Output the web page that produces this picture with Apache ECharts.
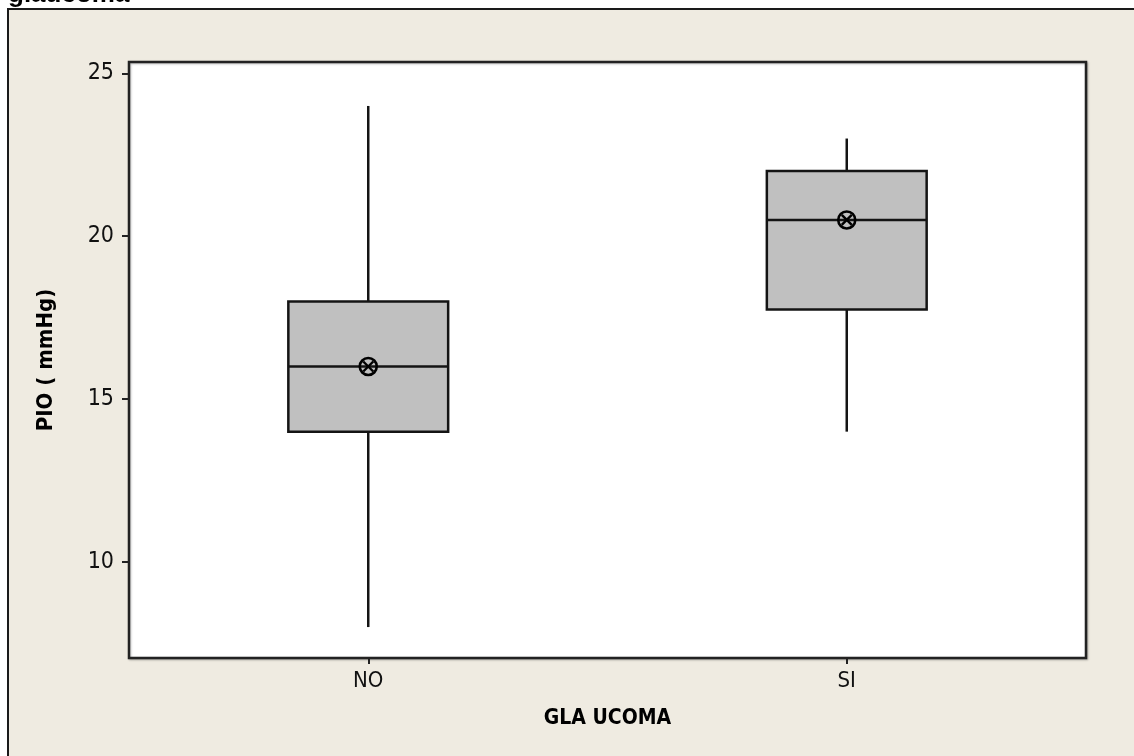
<!DOCTYPE html>
<html>
<head>
<meta charset="utf-8">
<script src="https://cdn.jsdelivr.net/npm/echarts@6/dist/echarts.min.js"></script>
<style>
  html, body { margin: 0; padding: 0; background: #ffffff; }
  #chart { width: 1134px; height: 756px; }
</style>
</head>
<body>
<div id="chart"></div>
<script>
const categories = ['NO', 'SI'];
const whiskerLow = [8, 14];
const q1 = [14, 17.75];
const median = [16, 20.5];
const q3 = [18, 22];
const whiskerHigh = [24, 23];
const means = [16, 20.5];
const yTicks = [10, 15, 20, 25];

const seriesData = categories.map((c, i) => [i, whiskerLow[i], q1[i], median[i], q3[i], whiskerHigh[i], means[i]]);

const FONT = '"DejaVu Sans Condensed", "DejaVu Sans", sans-serif';
const LINE = '#141414';

function renderItem(params, api) {
  const x = api.value(0);
  const pLow = api.coord([x, api.value(1)]);
  const pQ1 = api.coord([x, api.value(2)]);
  const pMed = api.coord([x, api.value(3)]);
  const pQ3 = api.coord([x, api.value(4)]);
  const pHigh = api.coord([x, api.value(5)]);
  const pMean = api.coord([x, api.value(6)]);
  const cx = pMed[0];
  const halfW = api.size([1, 0])[0] * 0.334 / 2;
  const ls = { stroke: LINE, lineWidth: 2.5 };
  const r = 8.5, d = 5;
  return {
    type: 'group',
    children: [
      { type: 'line', shape: { x1: cx, y1: pHigh[1], x2: cx, y2: pQ3[1] }, style: ls },
      { type: 'line', shape: { x1: cx, y1: pQ1[1], x2: cx, y2: pLow[1] }, style: ls },
      { type: 'rect', shape: { x: cx - halfW, y: pQ3[1], width: 2 * halfW, height: pQ1[1] - pQ3[1] },
        style: { fill: '#C0C0C0', stroke: LINE, lineWidth: 2.5 } },
      { type: 'line', shape: { x1: cx - halfW, y1: pMed[1], x2: cx + halfW, y2: pMed[1] }, style: ls },
      { type: 'circle', shape: { cx: cx, cy: pMean[1], r: r }, style: { fill: 'none', stroke: '#000', lineWidth: 2.6 } },
      { type: 'line', shape: { x1: cx - d, y1: pMean[1] - d, x2: cx + d, y2: pMean[1] + d }, style: { stroke: '#000', lineWidth: 2.4 } },
      { type: 'line', shape: { x1: cx - d, y1: pMean[1] + d, x2: cx + d, y2: pMean[1] - d }, style: { stroke: '#000', lineWidth: 2.4 } }
    ]
  };
}

const chart = echarts.init(document.getElementById('chart'), null, { renderer: 'canvas' });
chart.setOption({
  backgroundColor: '#ffffff',
  animation: false,
  graphic: [
    { type: 'rect', z: -10, silent: true,
      shape: { x: 8, y: 9, width: 1200, height: 800 },
      style: { fill: '#EFEBE1', stroke: '#1a1a1a', lineWidth: 2 } },
    { type: 'text', z: 10, silent: true, x: 8, y: -5,
      style: { text: 'glaucoma', font: 'bold 26px "Liberation Sans", Arial, sans-serif', fill: '#000',
               textAlign: 'left', textVerticalAlign: 'middle', verticalAlign: 'middle' } }
  ],
  grid: {
    left: 129, right: 48, top: 62, bottom: 98,
    show: true, backgroundColor: '#ffffff', borderColor: '#222', borderWidth: 2.5,
    shadowColor: 'rgba(0,0,0,0.25)', shadowBlur: 2, shadowOffsetX: 1, shadowOffsetY: 1
  },
  xAxis: {
    type: 'category',
    data: categories,
    boundaryGap: true,
    name: 'GLA UCOMA',
    nameLocation: 'middle',
    nameGap: 50,
    nameTextStyle: { fontFamily: FONT, fontWeight: 'bold', fontSize: 21, color: '#000' },
    axisLine: { show: true, lineStyle: { color: '#222', width: 2 } },
    axisTick: { show: true, alignWithLabel: true, length: 6, lineStyle: { color: '#222', width: 2 } },
    axisLabel: { fontFamily: FONT, fontSize: 22, color: '#111', margin: 12 },
    splitLine: { show: false }
  },
  yAxis: {
    type: 'value',
    min: 7.05,
    max: 25.35,
    name: 'PIO ( mmHg)',
    nameLocation: 'middle',
    nameGap: 72,
    nameRotate: 90,
    nameTextStyle: { fontFamily: FONT, fontWeight: 'bold', fontSize: 22, color: '#000' },
    axisLine: { show: true, lineStyle: { color: '#222', width: 2 } },
    axisTick: { show: true, length: 7, customValues: yTicks, lineStyle: { color: '#222', width: 2 } },
    axisLabel: { fontFamily: FONT, fontSize: 23, color: '#111', margin: 15, customValues: yTicks },
    splitLine: { show: false }
  },
  series: [{
    type: 'custom',
    renderItem: renderItem,
    encode: { x: 0, y: [1, 2, 3, 4, 5, 6] },
    data: seriesData
  }]
});
</script>
</body>
</html>
